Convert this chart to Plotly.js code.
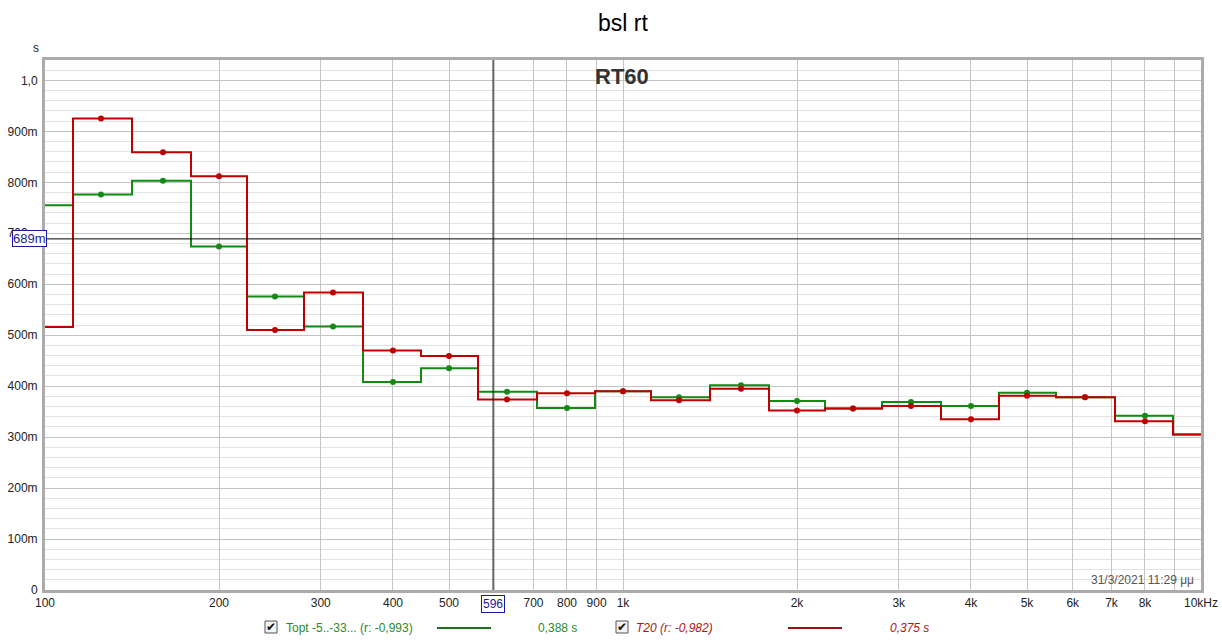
<!DOCTYPE html>
<html>
<head>
<meta charset="utf-8">
<script src="https://cdn.plot.ly/plotly-3.0.1.min.js"></script>
<style>html,body{margin:0;padding:0;background:#fff;}#chart{width:1222px;height:642px;}</style>
</head>
<body>
<div id="chart"></div>
<script>
// Third-octave band centres (Hz)
const freqs = [100,125,160,200,250,315,400,500,630,800,1000,1250,1600,2000,2500,3150,4000,5000,6300,8000,10000];
// RT60 values (s)
const topt = [0.755,0.776,0.803,0.674,0.576,0.517,0.408,0.435,0.389,0.357,0.390,0.378,0.402,0.371,0.356,0.369,0.361,0.387,0.378,0.342,0.305];
const t20  = [0.516,0.925,0.859,0.812,0.510,0.584,0.470,0.459,0.374,0.386,0.390,0.3725,0.395,0.352,0.356,0.361,0.335,0.381,0.378,0.331,0.305];

const xTickVals = [100,200,300,400,500,600,700,800,900,1000,2000,3000,4000,5000,6000,7000,8000,9000,10000];
const xTickText = ['100','200','300','400','500','','700','800','900','1k','2k','3k','4k','5k','6k','7k','8k','','10kHz'];
const yTickVals = [0,0.1,0.2,0.3,0.4,0.5,0.6,0.7,0.8,0.9,1.0];
const yTickText = ['0','100m','200m','300m','400m','500m','600m','700m','800m','900m','1,0'];

const cursorX = 596;
const cursorY = 0.689;
const seriesNames = ['Topt -5..-33... (r: -0,993)','T20 (r: -0,982)'];
const seriesValues = ['0,388 s','0,375 s'];

const GREEN = '#138a13';
const RED = '#c00000';
const FONT = 'Liberation Sans, Arial, sans-serif';

const L = 45, R = 21, T = 60, B = 52, W = 1222, H = 642;
const pw = W - L - R, ph = H - T - B;
const px = x => (x - L) / pw;
const py = y => (H - B - y) / ph;

// minor grid every 20 ms, skipping the major 100 ms lines
const minorVals = [];
for (let i = 1; i < 52; i++) { if (i % 5 !== 0) minorVals.push(+(i * 0.02).toFixed(2)); }

const traces = [
  {x: freqs, y: topt, mode: 'lines', line: {color: GREEN, width: 2, shape: 'hvh'}, hoverinfo: 'skip'},
  {x: freqs, y: t20, mode: 'lines', line: {color: RED, width: 2, shape: 'hvh'}, hoverinfo: 'skip'},
  {x: freqs.slice(1, -1), y: topt.slice(1, -1), mode: 'markers', marker: {color: GREEN, size: 6}, hoverinfo: 'skip'},
  {x: freqs.slice(1, -1), y: t20.slice(1, -1), mode: 'markers', marker: {color: RED, size: 6}, hoverinfo: 'skip'}
];

const shapes = [
  {type: 'line', xref: 'x', yref: 'paper', x0: cursorX, x1: cursorX, y0: 0, y1: 1, line: {color: '#000', width: 1}},
  {type: 'line', xref: 'paper', yref: 'y', x0: 0, x1: 1, y0: cursorY, y1: cursorY, line: {color: '#000', width: 1}},
  // legend line samples
  {type: 'line', xref: 'paper', yref: 'paper', x0: px(437), x1: px(491), y0: py(628), y1: py(628), line: {color: '#1e6e1e', width: 2}},
  {type: 'line', xref: 'paper', yref: 'paper', x0: px(788), x1: px(842), y0: py(628), y1: py(628), line: {color: '#9a1010', width: 2}},
  // checkboxes
  {type: 'rect', xref: 'paper', yref: 'paper', x0: px(265), x1: px(277), y0: py(621), y1: py(633), line: {color: '#555', width: 1}, fillcolor: '#f4f4f4'},
  {type: 'rect', xref: 'paper', yref: 'paper', x0: px(616), x1: px(628), y0: py(621), y1: py(633), line: {color: '#555', width: 1}, fillcolor: '#f4f4f4'}
];

const annotations = [
  {text: '<b>RT60</b>', xref: 'paper', yref: 'paper', x: px(622), y: py(76), xanchor: 'center', yanchor: 'middle', showarrow: false, font: {family: FONT, size: 22, color: '#333'}},
  {text: 's', xref: 'paper', yref: 'paper', x: px(36), y: py(48), xanchor: 'center', yanchor: 'middle', showarrow: false, font: {family: FONT, size: 12, color: '#222'}},
  {text: '689m', xref: 'paper', yref: 'y', x: 0, y: cursorY, xanchor: 'right', yanchor: 'middle', xshift: 2, showarrow: false, bgcolor: '#fff', bordercolor: '#1a1aa0', borderwidth: 1, borderpad: 0, font: {family: FONT, size: 13, color: '#1a1aa0'}},
  {text: '596', xref: 'x', yref: 'paper', x: Math.log10(cursorX), y: 0, xanchor: 'center', yanchor: 'top', yshift: -5, showarrow: false, bgcolor: '#fff', bordercolor: '#1a1aa0', borderwidth: 1, borderpad: 1, font: {family: FONT, size: 12, color: '#1a1aa0'}},
  {text: '31/3/2021 11:29 μμ', xref: 'paper', yref: 'paper', x: 1, y: 0, xanchor: 'right', yanchor: 'bottom', xshift: -5, yshift: 1, showarrow: false, font: {family: FONT, size: 12, color: '#555'}},
  // legend texts
  {text: '✔', xref: 'paper', yref: 'paper', x: px(271), y: py(627), xanchor: 'center', yanchor: 'middle', showarrow: false, font: {family: 'DejaVu Sans', size: 12, color: '#111'}},
  {text: '✔', xref: 'paper', yref: 'paper', x: px(622), y: py(627), xanchor: 'center', yanchor: 'middle', showarrow: false, font: {family: 'DejaVu Sans', size: 12, color: '#111'}},
  {text: seriesNames[0], xref: 'paper', yref: 'paper', x: px(284), y: py(628), xanchor: 'left', yanchor: 'middle', showarrow: false, font: {family: FONT, size: 12, color: '#2a8a2a'}},
  {text: seriesValues[0], xref: 'paper', yref: 'paper', x: px(536), y: py(628), xanchor: 'left', yanchor: 'middle', showarrow: false, font: {family: FONT, size: 12, color: '#2a8a2a'}},
  {text: '<i>' + seriesNames[1] + '</i>', xref: 'paper', yref: 'paper', x: px(634), y: py(628), xanchor: 'left', yanchor: 'middle', showarrow: false, font: {family: FONT, size: 12, color: '#b01515'}},
  {text: '<i>' + seriesValues[1] + '</i>', xref: 'paper', yref: 'paper', x: px(888), y: py(628), xanchor: 'left', yanchor: 'middle', showarrow: false, font: {family: FONT, size: 12, color: '#b01515'}}
];

const layout = {
  width: W, height: H,
  margin: {l: L, r: R, t: T, b: B},
  paper_bgcolor: '#fff', plot_bgcolor: '#fff',
  showlegend: false, hovermode: false,
  title: {text: 'bsl rt', x: 0.5, xref: 'paper', xanchor: 'center', y: 1 - 23 / H, yref: 'container', yanchor: 'middle', font: {family: FONT, size: 23, color: '#000'}},
  xaxis: {
    type: 'log', range: [2, 4],
    tickmode: 'array', tickvals: xTickVals, ticktext: xTickText,
    showgrid: true, gridcolor: '#c4c4c4', gridwidth: 1,
    showline: true, mirror: true, linecolor: '#ababab', linewidth: 3,
    ticks: '', zeroline: false,
    tickfont: {family: FONT, size: 12, color: '#222'}
  },
  yaxis: {
    range: [0, 1.04],
    tickmode: 'array', tickvals: yTickVals, ticktext: yTickText,
    showgrid: true, gridcolor: '#c4c4c4', gridwidth: 1,
    minor: {tickmode: 'array', tickvals: minorVals, showgrid: true, gridcolor: '#e2e2e2', gridwidth: 1, ticks: ''},
    showline: true, mirror: true, linecolor: '#ababab', linewidth: 3,
    ticks: '', zeroline: false, ticklabelstandoff: 2,
    tickfont: {family: FONT, size: 12, color: '#222'}
  },
  shapes: shapes,
  annotations: annotations
};

Plotly.newPlot('chart', traces, layout, {displayModeBar: false, staticPlot: true});
</script>
</body>
</html>
